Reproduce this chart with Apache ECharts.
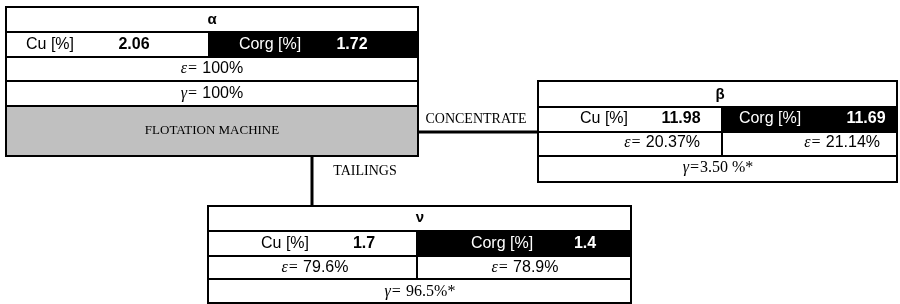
<!DOCTYPE html>
<html>
<head>
<meta charset="utf-8">
<script src="https://cdn.jsdelivr.net/npm/echarts@6/dist/echarts.min.js"></script>
<style>
html,body{margin:0;padding:0;background:#fff;}
#chart{width:900px;height:304px;}
</style>
</head>
<body>
<div id="chart"></div>
<script>
// ---- data ----
const streamNames = ['α', 'β', 'ν'];           // feed, concentrate, tailings
const cuGrade = ['2.06', '11.98', '1.7'];       // Cu [%]
const corgGrade = ['1.72', '11.69', '1.4'];     // Corg [%]
const cuRecovery = ['100', '20.37', '79.6'];    // ε Cu [%]
const corgRecovery = ['100', '21.14', '78.9'];  // ε Corg [%]
const yieldPct = ['100', '3.50', '96.5'];       // γ [%]
const yieldMark = ['', '*', '*'];
const labels = { cu: 'Cu [%]', corg: 'Corg [%]', machine: 'FLOTATION MACHINE', conc: 'CONCENTRATE', tail: 'TAILINGS' };

// ---- drawing ----
const SANS = '"Liberation Sans", Arial, sans-serif';
const SERIF = '"Liberation Serif", "Times New Roman", serif';
const els = [];
function rect(x, y, w, h, fill, lw) {
  els.push({ type: 'rect', shape: { x: x, y: y, width: w, height: h },
    style: { fill: fill, stroke: '#000', lineWidth: lw || 2 }, z: 1 });
}
function line(x1, y1, x2, y2, lw) {
  els.push({ type: 'line', shape: { x1: x1, y1: y1, x2: x2, y2: y2 },
    style: { stroke: '#000', lineWidth: lw }, z: 2 });
}
function text(str, x, y, font, fill, align, rich) {
  const st = { text: str, x: x, y: y, align: align || 'center', verticalAlign: 'middle',
    font: font, fill: fill || '#000' };
  if (rich) st.rich = rich;
  els.push({ type: 'text', style: st, z: 5 });
}
const richEV = {
  e: { fontFamily: SERIF, fontStyle: 'italic', fontSize: 16, fill: '#000' },
  v: { fontFamily: SANS, fontSize: 16, fill: '#000' },
  s: { fontFamily: SERIF, fontSize: 16, fill: '#000' }
};
const F_GREEK = 'bold 15px ' + SANS;
const F_LAB = '16px ' + SANS;
const F_VAL = 'bold 16px ' + SANS;
const F_SERIF = '13px ' + SERIF;
const F_SERIF2 = '14px ' + SERIF;

// connectors
line(418, 132, 538, 132, 3);
line(312, 156, 312, 206, 3);

// Feed box (α)
(function () {
  const i = 0, x0 = 6, x1 = 418, xm = 209;
  rect(x0, 7, x1 - x0, 25, '#fff');
  rect(x0, 32, xm - x0, 25, '#fff');
  rect(xm, 32, x1 - xm, 25, '#000');
  rect(x0, 57, x1 - x0, 24, '#fff');
  rect(x0, 81, x1 - x0, 25, '#fff');
  rect(x0, 106, x1 - x0, 50, '#c0c0c0');
  text(streamNames[i], 212, 20, F_GREEK);
  text(labels.cu, 50, 45, F_LAB);
  text(cuGrade[i], 134, 45, F_VAL);
  text(labels.corg, 270, 45, F_LAB, '#fff');
  text(corgGrade[i], 352, 45, F_VAL, '#fff');
  text('{e|ε=} {v|' + cuRecovery[i] + '%}', 212, 69, F_LAB, '#000', 'center', richEV);
  text('{e|γ=} {v|' + yieldPct[i] + '%}', 212, 94, F_LAB, '#000', 'center', richEV);
  text(labels.machine, 212, 131, F_SERIF);
})();

text(labels.conc, 476, 119, F_SERIF2);
text(labels.tail, 365, 171, F_SERIF2);

// Concentrate box (β)
(function () {
  const i = 1, x0 = 538, x1 = 897, xm = 722;
  rect(x0, 81, x1 - x0, 26, '#fff');
  rect(x0, 107, xm - x0, 25, '#fff');
  rect(xm, 107, x1 - xm, 25, '#000');
  rect(x0, 132, xm - x0, 24, '#fff');
  rect(xm, 132, x1 - xm, 24, '#fff');
  rect(x0, 156, x1 - x0, 26, '#fff');
  text(streamNames[i], 720, 95, F_GREEK);
  text(labels.cu, 604, 119, F_LAB);
  text(cuGrade[i], 681, 119, F_VAL);
  text(labels.corg, 770, 119, F_LAB, '#fff');
  text(corgGrade[i], 866, 119, F_VAL, '#fff');
  text('{e|ε=} {v|' + cuRecovery[i] + '%}', 700, 143, F_LAB, '#000', 'right', richEV);
  text('{e|ε=} {v|' + corgRecovery[i] + '%}', 880, 143, F_LAB, '#000', 'right', richEV);
  text('{e|γ=}{s|' + yieldPct[i] + ' %' + yieldMark[i] + '}', 718, 168, F_LAB, '#000', 'center', richEV);
})();

// Tailings box (ν)
(function () {
  const i = 2, x0 = 208, x1 = 631, xm = 417;
  rect(x0, 206, x1 - x0, 25, '#fff');
  rect(x0, 231, xm - x0, 25, '#fff');
  rect(xm, 231, x1 - xm, 25, '#000');
  rect(x0, 256, xm - x0, 23, '#fff');
  rect(xm, 256, x1 - xm, 23, '#fff');
  rect(x0, 279, x1 - x0, 24, '#fff');
  text(streamNames[i], 420, 218, F_GREEK);
  text(labels.cu, 285, 244, F_LAB);
  text(cuGrade[i], 364, 244, F_VAL);
  text(labels.corg, 502, 244, F_LAB, '#fff');
  text(corgGrade[i], 585, 244, F_VAL, '#fff');
  text('{e|ε=} {v|' + cuRecovery[i] + '%}', 315, 268, F_LAB, '#000', 'center', richEV);
  text('{e|ε=} {v|' + corgRecovery[i] + '%}', 525, 268, F_LAB, '#000', 'center', richEV);
  text('{e|γ=} {s|' + yieldPct[i] + '%' + yieldMark[i] + '}', 420, 292, F_LAB, '#000', 'center', richEV);
})();

const chart = echarts.init(document.getElementById('chart'), null, { renderer: 'canvas' });
chart.setOption({ animation: false, backgroundColor: '#fff', graphic: { elements: els } });
</script>
</body>
</html>
